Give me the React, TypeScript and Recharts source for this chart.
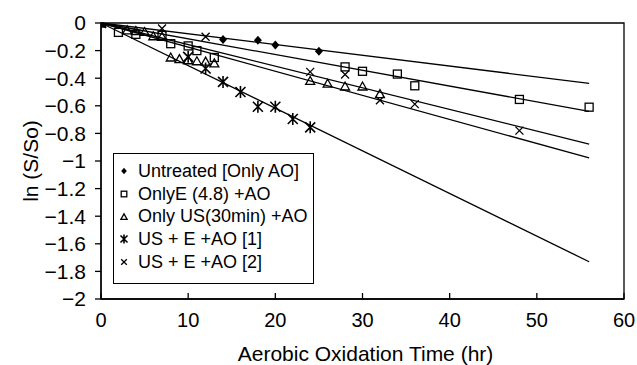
import React from 'react'
import { ScatterChart, Scatter, XAxis, YAxis, ReferenceLine, ReferenceArea, Legend, Label } from 'recharts'

const FONT = '"Liberation Sans", Arial, sans-serif'

// readings: time (hr) and ln(S/So)
const untreatedTime = [0, 14, 18, 20, 25]
const untreatedLn = [0, -0.12, -0.125, -0.16, -0.205]

const onlyETime = [0, 2, 4, 7, 8, 10, 11, 13, 28, 30, 34, 36, 48, 56]
const onlyELn = [0, -0.068, -0.082, -0.09, -0.15, -0.166, -0.2, -0.25, -0.318, -0.35, -0.37, -0.455, -0.554, -0.61]

const onlyUSTime = [0, 3, 4, 5, 6, 7, 8, 9, 10, 11, 12, 13, 24, 26, 28, 30, 32]
const onlyUSLn = [0, -0.053, -0.058, -0.065, -0.096, -0.1, -0.25, -0.262, -0.27, -0.277, -0.28, -0.293, -0.42, -0.44, -0.46, -0.46, -0.515]

const usE1Time = [0, 10, 12, 14, 16, 18, 20, 22, 24]
const usE1Ln = [0, -0.245, -0.33, -0.427, -0.5, -0.607, -0.607, -0.696, -0.756]

const usE2Time = [0, 7, 12, 24, 28, 32, 36, 48]
const usE2Ln = [0, -0.04, -0.1, -0.354, -0.373, -0.56, -0.588, -0.78]

const seriesNames = ['Untreated [Only AO]', 'OnlyE (4.8) +AO', 'Only US(30min) +AO', 'US + E +AO [1]', 'US + E +AO [2]']
const markerKinds = ['diamond', 'square', 'triangle', 'star', 'cross']

// linear trendlines through the origin, value at their end time
const trendEndTime = 56
const trendEndLn = [-0.437, -0.64, -0.978, -1.73, -0.877]

const xTicks = [0, 10, 20, 30, 40, 50, 60]
const yTicks = [0, -0.2, -0.4, -0.6, -0.8, -1, -1.2, -1.4, -1.6, -1.8, -2]

const zip = (t: number[], v: number[]) => t.map((x, i) => ({ t: x, v: v[i] }))
const seriesData = [
  zip(untreatedTime, untreatedLn),
  zip(onlyETime, onlyELn),
  zip(onlyUSTime, onlyUSLn),
  zip(usE1Time, usE1Ln),
  zip(usE2Time, usE2Ln),
]

function Marker({ kind, cx, cy, s = 1 }: { kind: string; cx: number; cy: number; s?: number }) {
  const sw = 1.3
  if (kind === 'diamond') {
    return <path d={`M${cx},${cy - 4.5 * s}L${cx + 4 * s},${cy}L${cx},${cy + 4.5 * s}L${cx - 4 * s},${cy}Z`} fill="#000" />
  }
  if (kind === 'square') {
    return <rect x={cx - 4 * s} y={cy - 4 * s} width={8 * s} height={8 * s} fill="none" stroke="#000" strokeWidth={sw} />
  }
  if (kind === 'triangle') {
    return <path d={`M${cx},${cy - 4.5 * s}L${cx + 4.5 * s},${cy + 3.5 * s}L${cx - 4.5 * s},${cy + 3.5 * s}Z`} fill="none" stroke="#000" strokeWidth={sw} />
  }
  if (kind === 'star') {
    const a = 5 * s
    return (
      <path
        d={`M${cx - a},${cy - a}L${cx + a},${cy + a}M${cx - a},${cy + a}L${cx + a},${cy - a}M${cx},${cy - a - 1}L${cx},${cy + a + 1}`}
        stroke="#000"
        strokeWidth={sw + 0.3}
        fill="none"
      />
    )
  }
  const a = 4 * s
  return <path d={`M${cx - a},${cy - a}L${cx + a},${cy + a}M${cx - a},${cy + a}L${cx + a},${cy - a}`} stroke="#000" strokeWidth={sw} fill="none" />
}

const XTick = (props: any) => {
  const { x, y, payload } = props
  return (
    <g>
      <line x1={x} x2={x} y1={y} y2={y - 6} stroke="#000" strokeWidth={1.3} />
      <text x={x} y={y + 28} textAnchor="middle" fontSize={20} fontFamily={FONT} fill="#000">
        {payload.value}
      </text>
    </g>
  )
}

const fmtY = (v: number) => (v === 0 ? '0' : '\u2212' + Number(Math.abs(v).toFixed(1)).toString())

const YTitle = (props: any) => {
  const vb = props.viewBox
  const cy = vb.y + vb.height / 2
  return (
    <text x={30} y={cy} transform={`rotate(-90, 30, ${cy})`} textAnchor="middle" dominantBaseline="central" fontSize={21} fontFamily={FONT} fill="#000">
      ln (S/So)
    </text>
  )
}

const XTitle = (props: any) => {
  const vb = props.viewBox
  return (
    <text x={vb.x + vb.width / 2 + 3} y={vb.y + 62} textAnchor="middle" fontSize={21} fontFamily={FONT} fill="#000">
      Aerobic Oxidation Time (hr)
    </text>
  )
}

const LegendBox = () => (
  <div
    style={{
      border: '1.3px solid #000',
      background: '#fff',
      padding: '6px 0 0 0',
      fontFamily: FONT,
      fontSize: 18,
      color: '#000',
      width: 201,
      height: 131,
      boxSizing: 'border-box',
    }}
  >
    {seriesNames.map((name, i) => (
      <div key={name} style={{ display: 'flex', alignItems: 'center', height: 22.7, whiteSpace: 'nowrap' }}>
        <svg width={24} height={16} style={{ flex: 'none' }}>
          <Marker kind={markerKinds[i]} cx={10} cy={8} s={0.7} />
        </svg>
        <span>{name}</span>
      </div>
    ))}
  </div>
)

export default function App() {
  return (
    <div style={{ position: 'absolute', left: 0, top: 0, background: '#fff' }}>
      <ScatterChart width={637} height={365} margin={{ top: 23, right: 13, bottom: 0, left: 0 }}>
        <XAxis
          type="number"
          dataKey="t"
          domain={[0, 60]}
          ticks={xTicks}
          interval={0}
          height={66}
          tickSize={0}
          tickMargin={0}
          tickLine={false}
          tick={<XTick />}
          axisLine={{ stroke: '#000', strokeWidth: 1.3 }}
          allowDataOverflow
        >
          <Label content={<XTitle />} />
        </XAxis>
        <YAxis
          type="number"
          dataKey="v"
          domain={[-2, 0]}
          ticks={yTicks}
          interval={0}
          width={101}
          tickSize={6}
          tickMargin={9}
          tickFormatter={fmtY}
          tick={{ fontSize: 21, fontFamily: FONT, fill: '#000' }}
          tickLine={{ stroke: '#000', strokeWidth: 1.3 }}
          axisLine={{ stroke: '#000', strokeWidth: 1.3 }}
          allowDataOverflow
        >
          <Label content={<YTitle />} />
        </YAxis>
        <ReferenceArea x1={0} x2={60} y1={-2} y2={0} fill="none" stroke="#000" strokeWidth={1.3} fillOpacity={0} />
        {trendEndLn.map((end, i) => (
          <ReferenceLine
            key={'trend' + i}
            segment={[
              { x: 0, y: 0 },
              { x: trendEndTime, y: end },
            ]}
            stroke="#000"
            strokeWidth={1.3}
          />
        ))}
        {seriesData.map((d, i) => (
          <Scatter
            key={seriesNames[i]}
            name={seriesNames[i]}
            data={d}
            fill="#000"
            isAnimationActive={false}
            shape={(p: any) => <Marker kind={markerKinds[i]} cx={p.cx} cy={p.cy} />}
          />
        ))}
        <Legend
          layout="vertical"
          align="center"
          verticalAlign="middle"
          content={<LegendBox />}
          wrapperStyle={{ left: 113, top: 153, right: 'auto', bottom: 'auto', width: 'auto' }}
        />
      </ScatterChart>
    </div>
  )
}
